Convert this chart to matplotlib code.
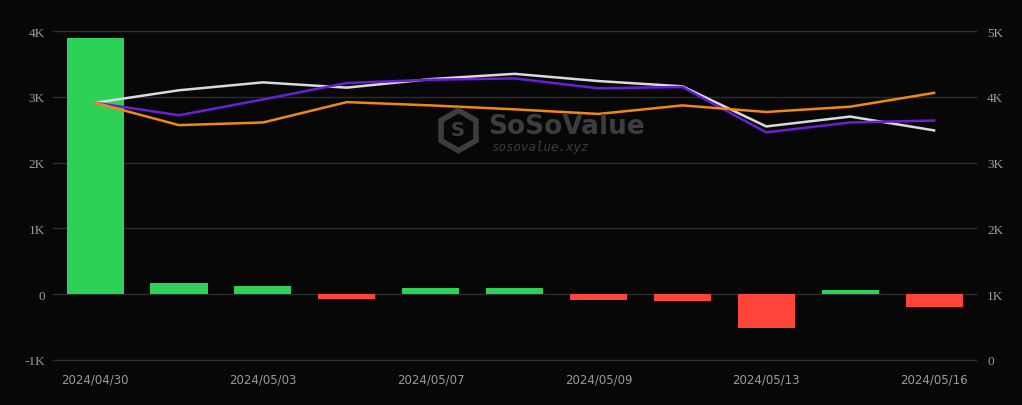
import matplotlib
matplotlib.use('Agg')
import matplotlib.pyplot as plt
from matplotlib.lines import Line2D

# Daily net inflow (bars, left axis) and three lines (right axis)
dates = ['2024/04/30', '2024/05/01', '2024/05/03', '2024/05/06', '2024/05/07', '2024/05/08',
         '2024/05/09', '2024/05/10', '2024/05/13', '2024/05/14', '2024/05/16']
net_inflow = [3890, 170, 130, -70, 90, 90, -90, -100, -520, 60, -200]
line_white = [3910, 4100, 4220, 4140, 4270, 4350, 4240, 4160, 3550, 3700, 3490]
line_purple = [3910, 3720, 3960, 4210, 4260, 4280, 4130, 4150, 3460, 3610, 3640]
line_orange = [3910, 3570, 3610, 3920, 3870, 3810, 3740, 3870, 3770, 3850, 4060]

left_ticks = [-1000, 0, 1000, 2000, 3000, 4000]
left_labels = ['-1K', '0', '1K', '2K', '3K', '4K']
right_ticks = [0, 1000, 2000, 3000, 4000, 5000]
right_labels = ['0', '1K', '2K', '3K', '4K', '5K']

bg = '#070707'
grid_c = '#2c2c2c'
tick_c = '#9a9a9a'

fig = plt.figure(figsize=(10.22, 4.06), dpi=100, facecolor=bg)
ax = fig.add_axes([0.052, 0.111, 0.903, 0.81])
ax.set_facecolor(bg)

x = list(range(len(dates)))
colors = ['#2ed158' if v >= 0 else '#ff453a' for v in net_inflow]
ax.bar(x, net_inflow, width=0.68, color=colors, zorder=2)

ax.set_xlim(-0.5, 10.5)
ax.set_ylim(-1000, 4000)
ax.set_yticks(left_ticks)
ax.set_yticklabels(left_labels, family='Liberation Serif', fontsize=9.5, color=tick_c)
ax.set_xticks(x[::2])
ax.set_xticklabels(dates[::2], fontsize=8.5, color=tick_c)
ax.tick_params(length=0, pad=6)
ax.tick_params(axis='x', pad=9)
ax.grid(axis='y', color=grid_c, linewidth=1, zorder=0)
for gl in ax.get_ygridlines():
    gl.set_clip_on(False)
for s in ax.spines.values():
    s.set_visible(False)

ax2 = ax.twinx()
ax2.plot(x, line_white, color='#dadada', linewidth=1.8, zorder=3)
ax2.plot(x, line_purple, color='#6a1fd6', linewidth=1.8, zorder=3)
ax2.plot(x, line_orange, color='#f0890f', linewidth=1.8, zorder=3)
ax2.set_ylim(0, 5000)
ax2.set_yticks(right_ticks)
ax2.set_yticklabels(right_labels, family='Liberation Serif', fontsize=9.5, color=tick_c)
ax2.tick_params(length=0, pad=8)
for s in ax2.spines.values():
    s.set_visible(False)

# watermark
wm = '#3d3d3d'
fig.add_artist(Line2D([458 / 1022], [1 - 131 / 406], marker='h', markersize=29,
                      markerfacecolor='none', markeredgecolor=wm, markeredgewidth=4,
                      transform=fig.transFigure, zorder=1))
fig.text(458 / 1022, 1 - 131 / 406, 'S', color=wm, fontsize=14, fontweight='bold',
         family='DejaVu Sans', va='center', ha='center')
fig.text(488 / 1022, 1 - 127 / 406, 'SoSoValue', color=wm, fontsize=19,
         fontweight='bold', family='DejaVu Sans', va='center', ha='left')
fig.text(491 / 1022, 1 - 148 / 406, 'sosovalue.xyz', color=wm, fontsize=9,
         style='italic', family='DejaVu Sans Mono', va='center', ha='left')

fig.savefig('out.png', dpi=100, facecolor=bg)
